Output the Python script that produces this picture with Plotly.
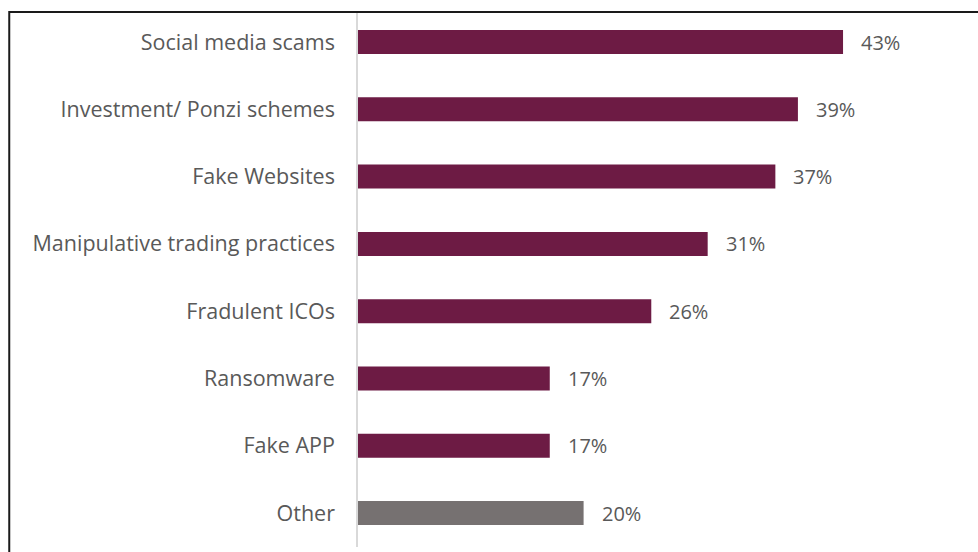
import plotly.graph_objects as go

categories = [
    "Social media scams",
    "Investment/ Ponzi schemes",
    "Fake Websites",
    "Manipulative trading practices",
    "Fradulent ICOs",
    "Ransomware",
    "Fake APP",
    "Other",
]
values = [43, 39, 37, 31, 26, 17, 17, 20]
value_labels = ["43%", "39%", "37%", "31%", "26%", "17%", "17%", "20%"]

MAROON = "#6D1B44"
GREY = "#767171"
TEXT = "#595959"
FONT = "Open Sans"

colors = [GREY if c == "Other" else MAROON for c in categories]

fig = go.Figure(
    go.Bar(
        x=values,
        y=categories,
        orientation="h",
        marker=dict(color=colors, line=dict(width=0)),
        width=0.357,
        hoverinfo="skip",
    )
)

# value labels to the right of each bar
for cat, val, lab in zip(categories, values, value_labels):
    fig.add_annotation(
        x=val, y=cat, text=lab, showarrow=False,
        xanchor="left", yanchor="middle", xshift=16,
        font=dict(family=FONT, size=20, color=TEXT),
    )

# outer frame (only left and top edges fall inside the page)
fig.add_shape(
    type="rect", xref="paper", yref="paper",
    x0=-0.5625, x1=1.2, y0=-0.2, y1=1.0,
    line=dict(color="#1a1a1a", width=2),
    layer="above",
)

fig.update_layout(
    width=978, height=552,
    margin=dict(l=358, r=0, t=12, b=5),
    paper_bgcolor="white", plot_bgcolor="white",
    showlegend=False,
    font=dict(family=FONT, size=21, color=TEXT),
    xaxis=dict(
        range=[0, 620 / 11.28], showgrid=False, zeroline=False,
        showticklabels=False, showline=False, fixedrange=True,
    ),
    yaxis=dict(
        type="category", range=[7.504, -0.446],
        showgrid=False, zeroline=False,
        showline=True, linecolor="#d9d9d9", linewidth=1.5,
        ticks="", ticklabelstandoff=17,
        tickfont=dict(family=FONT, size=21.5, color=TEXT),
        fixedrange=True,
    ),
)

fig.write_html("out.html")
